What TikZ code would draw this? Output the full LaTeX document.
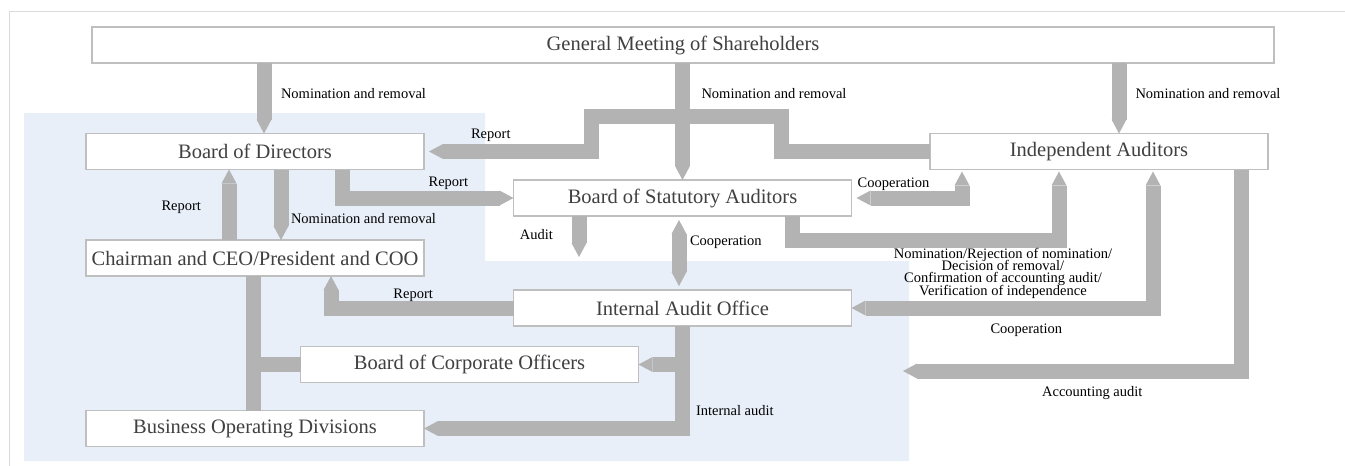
\documentclass[tikz,border=0pt]{standalone}
\usepackage{fontspec}
\setmainfont{Liberation Serif}
\usetikzlibrary{arrows.meta,calc}
\definecolor{flowgray}{HTML}{B3B3B3}
\definecolor{panelblue}{HTML}{E8EFF9}
\definecolor{boxline}{HTML}{BFBFBF}
\definecolor{boxtext}{HTML}{404040}
\definecolor{framegray}{HTML}{DADADA}
\tikzset{org/.style={draw=boxline,line width=1.2pt,fill=white,minimum width=338pt,minimum height=36pt,inner sep=0pt,outer sep=0pt,text=boxtext,font=\fontsize{20.5}{24}\selectfont},fat/.style={draw=flowgray,line width=15pt,-{Triangle[width=15pt,length=14pt,line width=0pt]}},fatboth/.style={draw=flowgray,line width=15pt,{Triangle[width=15pt,length=14pt,line width=0pt]}-{Triangle[width=15pt,length=14pt,line width=0pt]}},bar/.style={draw=flowgray,line width=15pt},lbl/.style={font=\fontsize{14.5}{15}\selectfont,inner sep=0pt,outer sep=0pt,text=black}}

\begin{document}
\begin{tikzpicture}[x=1pt,y=-1pt]
\useasboundingbox (0,0) rectangle (1345,466);
\fill[panelblue] (24,113) -- (485,113) -- (485,261) -- (909,261) -- (909,461) -- (24,461) -- cycle;
\draw[framegray,line width=1pt] (1345,11) -- (9,11) -- (9,466);
\node[org,minimum width=1182pt] (gm) at (683,45) {General Meeting of Shareholders};
\node[org] (bod) at (255,151.5) {Board of Directors};
\node[org] (ceo) at (255,258) {Chairman and CEO/President and COO};
\node[org] (bus) at (255,428.5) {Business Operating Divisions};
\node[org] (bco) at (469.5,364.5) {Board of Corporate Officers};
\node[org] (bsa) at (682.5,198) {Board of Statutory Auditors};
\node[org] (iao) at (682.5,308) {Internal Audit Office};
\node[org] (ia) at (1099,151.5) {Independent Auditors};
\coordinate (auditend) at (579,257);
\coordinate (acctend) at (903,371);
\draw[fat] ([xshift=9pt]bod.north |- gm.south) -- node[lbl,pos=0.43,right=17pt]{Nomination and removal} ([xshift=9pt]bod.north);
\draw[fat] (bsa.north |- gm.south) -- node[lbl,pos=0.26,right=19pt]{Nomination and removal} (bsa.north);
\draw[fat] ([xshift=20pt]ia.north |- gm.south) -- node[lbl,pos=0.43,right=16.5pt]{Nomination and removal} ([xshift=20pt]ia.north);
\draw[fat,shorten >=5pt] (ia.west) -- (781,151.5) |- (591,116) |- node[lbl,pos=0.8,above=9.5pt]{Report} (bod.east);
\draw[fat] ([xshift=87pt]bod.south) |- node[lbl,pos=0.81,above=8.5pt]{Report} (bsa.west);
\draw[fat] ([xshift=26pt]bod.south) -- node[lbl,pos=0.7,right=10pt]{Nomination and removal} ([xshift=26pt]ceo.north);
\draw[fat] ([xshift=-26pt]ceo.north) -- node[lbl,pos=0.46,left=28pt]{Report} ([xshift=-26pt]bod.south);
\draw[bar] ([xshift=-2pt]ceo.south) -- ([xshift=-2pt]bus.north);
\draw[bar] ([xshift=-2pt]ceo.south |- bco.west) -- (bco.west);
\draw[fat] (bsa.south -| auditend) -- node[lbl,pos=0.46,left=26pt]{Audit} (auditend);
\draw[fatboth,shorten <=4pt,shorten >=4pt] ([xshift=-3.5pt]bsa.south) -- node[lbl,pos=0.36,right=11pt]{Cooperation} ([xshift=-3.5pt]iao.north);
\draw[fatboth,shorten <=5pt,shorten >=2pt] (bsa.east) -| node[lbl,pos=0.19,above=7.5pt]{Cooperation} ([xshift=-137pt]ia.south);
\draw[fat,shorten >=2pt] ([xshift=109.5pt]bsa.south) -- ++(0,24) -| node[lbl,pos=0.395,below=8pt,align=center,font={\fontsize{14.5}{12.3}\selectfont\lineskiplimit=-20pt\relax}]
 {Nomination/Rejection of nomination/\\Decision of removal/\\Confirmation of accounting audit/\\Verification of independence} ([xshift=-40pt]ia.south);
\draw[fatboth,shorten <=2pt] ([xshift=54pt]ia.south) |- node[lbl,pos=0.71,below=15.5pt]{Cooperation} (iao.east);
\draw[fat] ([xshift=142pt]ia.south) |- node[lbl,pos=0.72,below=15.5pt]{Accounting audit} (acctend);
\draw[fat] (iao.west) -| node[lbl,pos=0.275,above=6.5pt]{Report} ([xshift=76pt]ceo.south);
\draw[fat] (iao.south) |- node[lbl,pos=0.41,right=13.5pt]{Internal audit} (bus.east);
\draw[fat] (iao.south |- bco.east) -- (bco.east);
\end{tikzpicture}
\end{document}
